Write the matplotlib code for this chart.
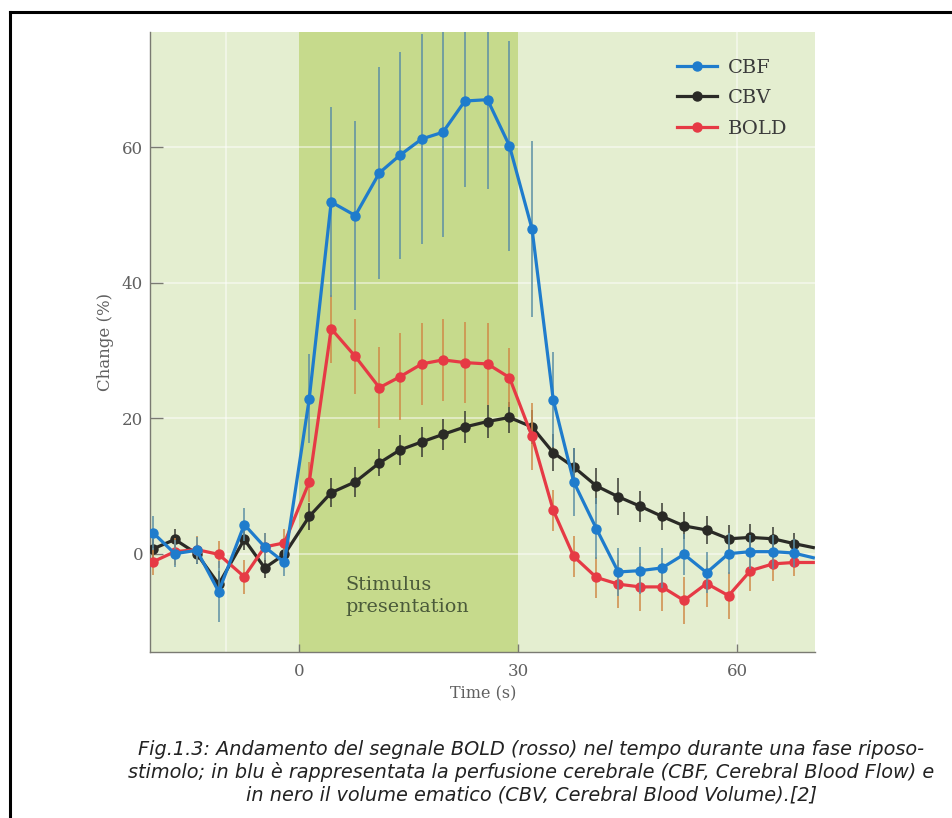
import numpy as np
import matplotlib
matplotlib.use("Agg")
import matplotlib.pyplot as plt
from matplotlib.lines import Line2D

# ── Data (per cent change vs time, s) ─────────────────────────
time_s = [-20, -17, -14, -11, -7.5, -4.7, -2, 1.4, 4.4, 7.7, 11, 13.8, 16.8,
          19.7, 22.7, 25.8, 28.8, 31.9, 34.8, 37.6, 40.7, 43.7, 46.7, 49.7,
          52.7, 55.8, 58.8, 61.8, 64.9, 67.7]

cbf = [3.1, 0.0, 0.5, -5.6, 4.3, 1.0, -1.3, 22.9, 51.9, 49.9, 56.2, 58.8, 61.2,
       62.2, 66.8, 67.0, 60.2, 47.9, 22.7, 10.6, 3.7, -2.7, -2.5, -2.1,
       -0.1, -2.8, 0.0, 0.3, 0.3, 0.1]
cbf_err = [2.5, 2.0, 2.0, 4.5, 2.5, 2.0, 2.0, 6.6, 14.0, 14.0, 15.6, 15.3, 15.5,
           15.5, 12.7, 13.2, 15.5, 13.0, 7.0, 5.0, 4.5, 3.5, 3.5, 3.0,
           3.0, 3.0, 3.0, 2.5, 2.5, 2.0]

cbv = [0.7, 2.1, 0.0, -4.5, 2.1, -2.1, -0.1, 5.5, 9.0, 10.6, 13.4, 15.3, 16.5,
       17.6, 18.7, 19.5, 20.1, 18.7, 14.9, 12.8, 10.0, 8.4, 7.0, 5.5,
       4.1, 3.5, 2.2, 2.4, 2.2, 1.5]
cbv_err = [1.5, 1.5, 1.5, 2.0, 1.5, 1.5, 1.5, 2.0, 2.1, 2.2, 2.0, 2.2, 2.2,
           2.3, 2.4, 2.4, 2.3, 2.5, 2.7, 2.8, 2.7, 2.7, 2.3, 2.0,
           2.0, 2.0, 2.0, 2.0, 1.8, 1.5]

bold = [-1.2, 0.3, 0.6, -0.1, -3.4, 1.0, 1.6, 10.6, 33.2, 29.1, 24.5, 26.1, 28.0,
        28.6, 28.2, 28.0, 26.0, 17.3, 6.4, -0.4, -3.5, -4.5, -4.9, -4.9,
        -6.9, -4.4, -6.2, -2.5, -1.5, -1.3]
bold_err = [2.0, 2.0, 2.0, 2.0, 2.5, 2.0, 2.0, 3.0, 5.0, 5.6, 6.0, 6.4, 6.0,
            6.0, 6.0, 6.0, 4.3, 5.0, 3.0, 3.0, 3.0, 3.5, 3.5, 3.5,
            3.5, 3.5, 3.5, 3.0, 2.5, 2.0]

# lines run on past the last sample to the plot edge
t_edge = 70.4
cbf_edge, cbv_edge, bold_edge = -0.6, 0.9, -1.3

stim_on, stim_off = 0, 30

# ── Styling ───────────────────────────────────────────────────
BG = "#e4eed0"
BAND = "#c6da8c"
SERIF = "DejaVu Serif"
TICK_C = "#606060"

SERIES = [
    # label, values, errors, edge value, line colour, bar colour, zorder
    ("CBV", cbv, cbv_err, cbv_edge, "#2a2a26", "#3a3a34", 3),
    ("BOLD", bold, bold_err, bold_edge, "#e63a45", "#d08a48", 4),
    ("CBF", cbf, cbf_err, cbf_edge, "#1f7ccc", "#5c8fa4", 5),
]

fig = plt.figure(figsize=(9.52, 8.18), dpi=100, facecolor="white")
ax = fig.add_axes([0.1576, 0.203, 0.699, 0.758])
ax.set_facecolor(BG)

ax.axvspan(stim_on, stim_off, color=BAND, zorder=0, lw=0)
for y in (0, 20, 40, 60):
    ax.axhline(y, color="white", lw=1.2, alpha=0.55, zorder=1)
for x in (-10, 60):
    ax.axvline(x, color="white", lw=1.2, alpha=0.55, zorder=1)

t = np.array(time_s)
handles = {}
for label, vals, errs, edge, lc, ec, z in SERIES:
    ax.errorbar(t, vals, yerr=errs, fmt="none", ecolor=ec, elinewidth=1.1,
                capsize=0, zorder=z)
    ax.plot(list(t) + [t_edge], list(vals) + [edge], color=lc, lw=2.3,
            zorder=z + 0.1, solid_joinstyle="round")
    ax.plot(t, vals, "o", color=lc, ms=6.5, zorder=z + 0.2)
    handles[label] = Line2D([], [], color=lc, lw=2.3, marker="o", ms=6.5)

ax.set_xlim(-20.4, 70.7)
ax.set_ylim(-14.5, 77.0)
ax.set_xticks([0, 30, 60])
ax.set_yticks([0, 20, 40, 60])

for s in ("top", "right"):
    ax.spines[s].set_visible(False)
for s in ("left", "bottom"):
    ax.spines[s].set_color("#7a7a72")
    ax.spines[s].set_linewidth(1.0)
ax.tick_params(axis="y", direction="in", length=9, width=1.0,
               color="#7a7a72", pad=5)
ax.tick_params(axis="x", direction="in", length=6, width=1.0,
               color="#7a7a72", pad=8)
for lbl in ax.get_xticklabels() + ax.get_yticklabels():
    lbl.set_fontfamily(SERIF)
    lbl.set_fontsize(12)
    lbl.set_color(TICK_C)

ax.set_xlabel("Time (s)", fontfamily=SERIF, fontsize=11.5, color=TICK_C,
              labelpad=4)
ax.set_ylabel("Change (%)", fontfamily=SERIF, fontsize=12, color=TICK_C,
              labelpad=6)

ax.text(6.4, -6.3, "Stimulus\npresentation", fontfamily=SERIF, fontsize=13.8,
        color="#4a5a3a", va="center", ha="left", linespacing=1.3, zorder=2)

order = ["CBF", "CBV", "BOLD"]
leg = fig.legend([handles[k] for k in order], order, loc="upper left",
                 bbox_to_anchor=(677 / 952, 1 - 59 / 818), frameon=False,
                 numpoints=1, handlelength=2.06, handletextpad=0.55,
                 labelspacing=0.63, borderpad=0, borderaxespad=0,
                 prop={"family": SERIF, "size": 14})
for txt in leg.get_texts():
    txt.set_color("#3a3a3a")

# frame around the figure block
fig.add_artist(Line2D([10 / 952, 1.0], [1 - 12 / 818] * 2, color="black",
                      lw=2.2, transform=fig.transFigure))
fig.add_artist(Line2D([10 / 952] * 2, [0.0, 1 - 12 / 818], color="black",
                      lw=2.2, transform=fig.transFigure))

caption = ("Fig.1.3: Andamento del segnale BOLD (rosso) nel tempo durante una fase riposo-\n"
           "stimolo; in blu è rappresentata la perfusione cerebrale (CBF, Cerebral Blood Flow) e\n"
           "in nero il volume ematico (CBV, Cerebral Blood Volume).[2]")
fig.text(0.558, 1 - 772 / 818, caption, ha="center", va="center",
         fontfamily="DejaVu Sans", style="italic", fontsize=13.9,
         color="#222222", linespacing=1.2)

fig.savefig("out.png", dpi=100, facecolor="white")
